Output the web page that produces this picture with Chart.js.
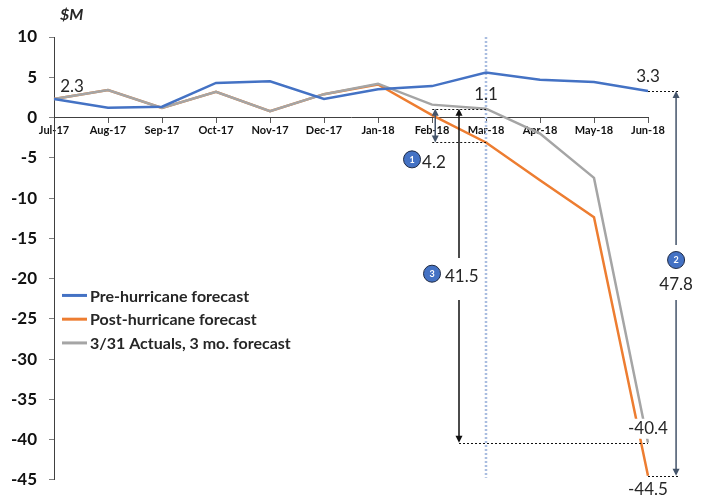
<!DOCTYPE html>
<html>
<head>
<meta charset="utf-8">
<script src="https://cdn.jsdelivr.net/npm/chart.js@4.4.1/dist/chart.umd.min.js"></script>
<style>
  html, body { margin: 0; padding: 0; background: #fff; }
  #wrap { width: 703px; height: 502px; }
</style>
</head>
<body>
<div id="wrap"><canvas id="forecastChart" width="703" height="502"></canvas></div>
<script>
const months = ["Jul-17", "Aug-17", "Sep-17", "Oct-17", "Nov-17", "Dec-17",
                "Jan-18", "Feb-18", "Mar-18", "Apr-18", "May-18", "Jun-18"];
const preHurricane = [2.3, 1.2, 1.35, 4.3, 4.5, 2.3, 3.5, 3.9, 5.6, 4.7, 4.4, 3.3];
const postHurricane = [2.3, 3.4, 1.2, 3.2, 0.8, 2.9, 4.1, 0.3, -3.1, -7.8, -12.4, -44.5];
const actualsForecast = [2.3, 3.4, 1.2, 3.2, 0.8, 2.9, 4.2, 1.6, 1.1, -2.0, -7.5, -40.4];
const seriesNames = ["Pre-hurricane forecast", "Post-hurricane forecast", "3/31 Actuals, 3 mo. forecast"];
const seriesColors = ["#4472C4", "#ED7D31", "#A5A5A5"];
const yTicks = { min: -45, max: 10, step: 5 };

const FONT = "Lato, sans-serif";
const TEXT = "#262626";
const SLATE = "#44546A";
const MAR = 8, JUN = 11;

function arrowHead(ctx, x, y, dir, color) {
  // dir = -1 points up, 1 points down
  ctx.beginPath();
  ctx.moveTo(x, y);
  ctx.lineTo(x - 3.5, y - dir * 7);
  ctx.lineTo(x + 3.5, y - dir * 7);
  ctx.closePath();
  ctx.fillStyle = color;
  ctx.fill();
}

function vArrow(ctx, x, yTop, yBot, color, gap) {
  ctx.save();
  ctx.strokeStyle = color;
  ctx.lineWidth = 1.5;
  ctx.setLineDash([]);
  ctx.beginPath();
  if (gap) {
    ctx.moveTo(x, yTop + 6); ctx.lineTo(x, gap[0]);
    ctx.moveTo(x, gap[1]); ctx.lineTo(x, yBot - 6);
  } else {
    ctx.moveTo(x, yTop + 6); ctx.lineTo(x, yBot - 6);
  }
  ctx.stroke();
  arrowHead(ctx, x, yTop, -1, color);
  arrowHead(ctx, x, yBot, 1, color);
  ctx.restore();
}

function dotted(ctx, x1, x2, y) {
  ctx.save();
  ctx.strokeStyle = "#111";
  ctx.lineWidth = 1;
  ctx.setLineDash([2, 2]);
  ctx.beginPath();
  ctx.moveTo(x1, Math.round(y) + 0.5);
  ctx.lineTo(x2, Math.round(y) + 0.5);
  ctx.stroke();
  ctx.restore();
}

function label(ctx, text, x, y, align, boxed, font) {
  ctx.save();
  ctx.font = font || "17px " + FONT;
  ctx.textAlign = align || "center";
  ctx.textBaseline = "middle";
  if (boxed) {
    const w = ctx.measureText(text).width;
    const left = align === "left" ? x : x - w / 2;
    ctx.fillStyle = "#fff";
    ctx.fillRect(left - 2, y - 10, w + 4, 20);
  }
  ctx.fillStyle = TEXT;
  ctx.fillText(text, x, y);
  ctx.restore();
}

function badge(ctx, n, x, y) {
  ctx.save();
  ctx.beginPath();
  ctx.arc(x, y, 8.5, 0, Math.PI * 2);
  ctx.fillStyle = "#4472C4";
  ctx.fill();
  ctx.strokeStyle = "#1F2A44";
  ctx.lineWidth = 1;
  ctx.stroke();
  ctx.fillStyle = "#fff";
  ctx.font = "bold 9px " + FONT;
  ctx.textAlign = "center";
  ctx.textBaseline = "middle";
  ctx.fillText(String(n), x, y + 0.5);
  ctx.restore();
}

const gapNotes = {
  id: "gapNotes",
  beforeDatasetsDraw(chart) {
    const { ctx, scales: { x, y } } = chart;
    const mx = x.getPixelForValue(MAR);
    ctx.save();
    ctx.strokeStyle = "#A9BDE0";
    ctx.lineWidth = 2.5;
    ctx.setLineDash([2, 2]);
    ctx.beginPath();
    ctx.moveTo(mx, y.getPixelForValue(yTicks.max));
    ctx.lineTo(mx, y.getPixelForValue(yTicks.min) - 2);
    ctx.stroke();
    ctx.restore();
  },
  afterDatasetsDraw(chart) {
    const { ctx, scales: { x, y } } = chart;
    const px = i => x.getPixelForValue(i);
    const py = v => y.getPixelForValue(v);

    const actMar = actualsForecast[MAR], postMar = postHurricane[MAR];
    const preJun = preHurricane[JUN], postJun = postHurricane[JUN], actJun = actualsForecast[JUN];

    // 1: actuals vs post-hurricane at March
    const x1 = px(7.06);
    dotted(ctx, x1 - 3, px(MAR), py(actMar));
    dotted(ctx, x1 - 3, px(MAR), py(postMar));
    vArrow(ctx, x1, py(actMar), py(postMar), SLATE);
    badge(ctx, 1, px(6.63), py(-5.2));
    label(ctx, (actMar - postMar).toFixed(1), px(6.63) + 10, py(-5.6), "left");

    // 3: March actuals to June actuals forecast
    const x3 = px(7.5);
    const t3 = py(-19.8);
    dotted(ctx, x3, px(JUN), py(actJun));
    vArrow(ctx, x3, py(actMar), py(actJun), "#111", [t3 - 19, t3 + 23]);
    badge(ctx, 3, px(7.0), py(-19.4));
    label(ctx, (actMar - actJun).toFixed(1), px(7.0) + 13, t3, "left");

    // 2: pre vs post hurricane at June
    const x2 = px(11.52);
    const b2 = py(-17.7), t2 = py(-20.8);
    dotted(ctx, px(JUN), x2 + 3, py(preJun));
    dotted(ctx, px(JUN), x2 + 3, py(postJun));
    vArrow(ctx, x2, py(preJun), py(postJun), SLATE, [b2 - 15, t2 + 15]);
    badge(ctx, 2, x2, b2);
    label(ctx, (preJun - postJun).toFixed(1), x2, t2);

    // point values
    label(ctx, preHurricane[0].toFixed(1), px(0) + 18, py(preHurricane[0]) - 12);
    label(ctx, preJun.toFixed(1), px(JUN), py(preJun) - 14);
    label(ctx, actMar.toFixed(1), px(MAR), py(actMar) - 14);
    label(ctx, actJun.toFixed(1), px(JUN), py(actJun) - 14, "center", true);
    label(ctx, postJun.toFixed(1), px(JUN), py(postJun) + 14, "center", true);

    // unit
    label(ctx, "$M", px(0) + 6, py(yTicks.max) - 22, "left", false, "italic bold 16px " + FONT);

    // legend
    seriesNames.forEach((name, i) => {
      const ly = py(-22.1 - i * 2.95);
      ctx.save();
      ctx.strokeStyle = seriesColors[i];
      ctx.lineWidth = 3;
      ctx.setLineDash([]);
      ctx.beginPath();
      ctx.moveTo(px(0) + 8, ly);
      ctx.lineTo(px(0) + 33, ly);
      ctx.stroke();
      ctx.restore();
      label(ctx, name, px(0) + 36, ly + 1, "left", false, "bold 16px " + FONT);
    });
  }
};

const ctx = document.getElementById("forecastChart").getContext("2d");
new Chart(ctx, {
  type: "line",
  data: {
    labels: months,
    datasets: [
      { label: seriesNames[0], data: preHurricane, borderColor: seriesColors[0], order: 0 },
      { label: seriesNames[1], data: postHurricane, borderColor: seriesColors[1], order: 2 },
      { label: seriesNames[2], data: actualsForecast, borderColor: seriesColors[2], order: 1 }
    ]
  },
  options: {
    responsive: false,
    animation: false,
    devicePixelRatio: 1,
    layout: { padding: { left: 0, right: 55, top: 37, bottom: 17 } },
    elements: {
      line: { borderWidth: 2.5, tension: 0, fill: false },
      point: { radius: 0 }
    },
    plugins: { legend: { display: false }, tooltip: { enabled: false } },
    scales: {
      x: {
        position: { y: 0 },
        grid: { drawOnChartArea: false, drawTicks: true, tickLength: 5, color: "#595959" },
        border: { color: "#404040", width: 1 },
        ticks: {
          autoSkip: false, maxRotation: 0, padding: 1, color: "#111",
          font: { family: FONT, size: 11, weight: "bold" }
        }
      },
      y: {
        min: yTicks.min,
        max: yTicks.max,
        afterFit: s => { s.width = 54; },
        grid: { drawOnChartArea: false, drawTicks: true, tickLength: 5, color: "#7F7F7F" },
        border: { color: "#404040", width: 1 },
        ticks: {
          stepSize: yTicks.step, padding: 12, color: "#111",
          font: { family: FONT, size: 17, weight: "bold" }
        }
      }
    }
  },
  plugins: [gapNotes]
});
</script>
</body>
</html>
